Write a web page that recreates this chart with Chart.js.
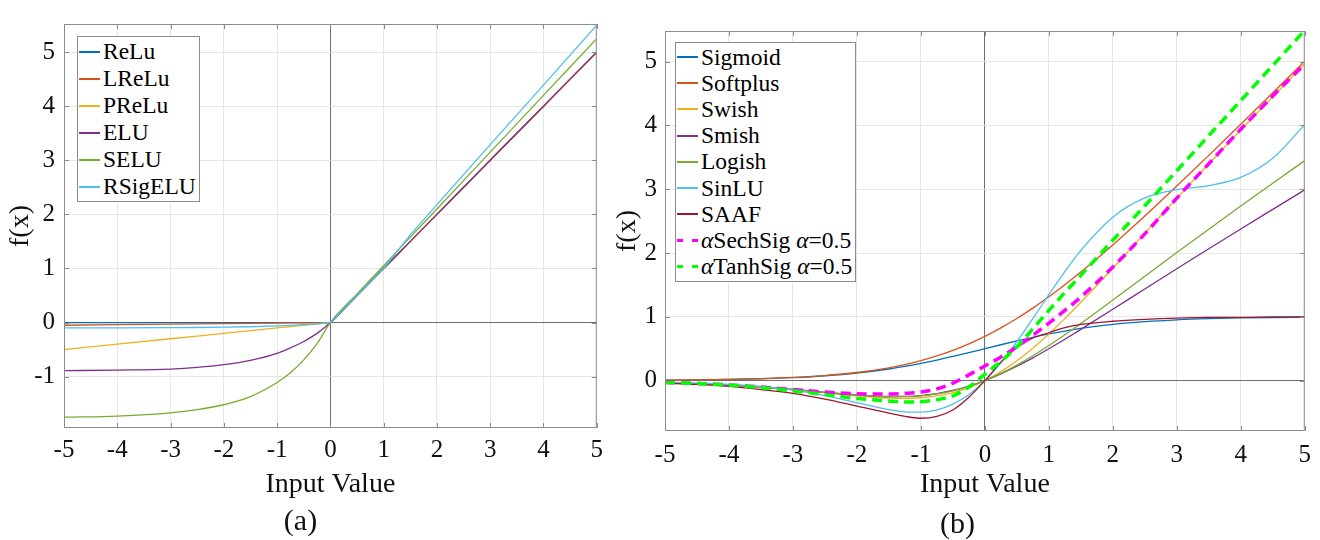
<!DOCTYPE html>
<html>
<head>
<meta charset="utf-8">
<script src="https://cdn.jsdelivr.net/npm/chart.js@4.4.1/dist/chart.umd.min.js"></script>
<style>
  html, body { margin: 0; padding: 0; background: #fff; }
  #wrap { position: relative; width: 1320px; height: 540px; }
  .pane { position: absolute; top: 0; height: 540px; }
  #paneA { left: 0; width: 610px; }
  #paneB { left: 610px; width: 710px; }
  .legend {
    position: absolute; background: #fff; border: 1px solid #8c8c8c;
    font-family: 'Liberation Serif', 'Times New Roman', serif; font-size: 23.5px; color: #000;
    padding: 1px 3px 1px 1px;
  }
  .legend .row { display: flex; align-items: center; white-space: nowrap; }
  .legend .sw { width: 21px; margin-right: 3px; flex: none; }
</style>
</head>
<body>
<div id="wrap">
  <div class="pane" id="paneA"><canvas id="chartA" width="610" height="540"></canvas><div class="legend" id="legA"></div></div>
  <div class="pane" id="paneB"><canvas id="chartB" width="710" height="540"></canvas><div class="legend" id="legB"></div></div>
</div>
<script>
// (a) piecewise activations
const xsA = [-5, -4, -3, -2.5, -2, -1.5, -1, -0.75, -0.5, -0.25, 0, 0.5, 1, 1.5, 2, 3, 4, 5];
const relu = [0, 0, 0, 0, 0, 0, 0, 0, 0, 0, 0, 0.5, 1, 1.5, 2, 3, 4, 5];
const lrelu = [-0.05, -0.04, -0.03, -0.025, -0.02, -0.015, -0.01, -0.008, -0.005, -0.003, 0, 0.5, 1, 1.5, 2, 3, 4, 5];
const prelu = [-0.5, -0.4, -0.3, -0.25, -0.2, -0.15, -0.1, -0.075, -0.05, -0.025, 0, 0.5, 1, 1.5, 2, 3, 4, 5];
const elu = [-0.89, -0.88, -0.86, -0.83, -0.78, -0.7, -0.57, -0.47, -0.35, -0.2, 0, 0.5, 1, 1.5, 2, 3, 4, 5];
const selu = [-1.75, -1.73, -1.67, -1.61, -1.52, -1.37, -1.11, -0.93, -0.69, -0.39, 0, 0.53, 1.05, 1.58, 2.1, 3.15, 4.2, 5.25];
const rsigelu = [-0.1, -0.1, -0.095, -0.092, -0.086, -0.078, -0.063, -0.053, -0.039, -0.022, 0, 0.5, 1, 1.62, 2.18, 3.29, 4.39, 5.5];

// (b) smooth activations
const xsB = [-5, -4.5, -4, -3.5, -3, -2.5, -2, -1.5, -1.25, -1, -0.75, -0.5, -0.25, 0, 0.25, 0.5, 0.75, 1, 1.25, 1.5, 2, 2.5, 3, 3.5, 4, 4.5, 5];
const sigmoid = [0.007, 0.011, 0.018, 0.029, 0.047, 0.076, 0.119, 0.182, 0.223, 0.269, 0.321, 0.378, 0.438, 0.5, 0.562, 0.622, 0.679, 0.731, 0.777, 0.818, 0.881, 0.924, 0.953, 0.971, 0.982, 0.989, 0.993];
const softplus = [0.007, 0.011, 0.018, 0.03, 0.049, 0.079, 0.127, 0.201, 0.252, 0.313, 0.386, 0.474, 0.576, 0.693, 0.826, 0.974, 1.136, 1.313, 1.502, 1.701, 2.127, 2.579, 3.049, 3.53, 4.018, 4.511, 5.007];
const swish = [-0.033, -0.05, -0.072, -0.103, -0.142, -0.19, -0.238, -0.273, -0.279, -0.269, -0.241, -0.189, -0.109, 0, 0.141, 0.311, 0.509, 0.731, 0.971, 1.227, 1.762, 2.311, 2.858, 3.399, 3.928, 4.45, 4.967];
const smish = [-0.033, -0.049, -0.071, -0.101, -0.139, -0.183, -0.224, -0.249, -0.248, -0.234, -0.203, -0.155, -0.087, 0, 0.105, 0.225, 0.357, 0.5, 0.649, 0.803, 1.118, 1.437, 1.753, 2.067, 2.377, 2.684, 2.99];
const logish = [-0.033, -0.049, -0.071, -0.101, -0.139, -0.183, -0.225, -0.251, -0.251, -0.238, -0.209, -0.16, -0.091, 0, 0.112, 0.242, 0.389, 0.549, 0.719, 0.896, 1.263, 1.636, 2.007, 2.374, 2.736, 3.094, 3.449];
const sinlu = [-0.027, -0.039, -0.058, -0.092, -0.149, -0.235, -0.347, -0.456, -0.49, -0.495, -0.459, -0.37, -0.218, 0, 0.28, 0.61, 0.972, 1.346, 1.709, 2.042, 2.562, 2.863, 2.993, 3.057, 3.185, 3.484, 4.013];
const saaf = [-0.04, -0.06, -0.09, -0.14, -0.2, -0.29, -0.4, -0.51, -0.56, -0.59, -0.56, -0.46, -0.26, 0, 0.29, 0.52, 0.67, 0.75, 0.83, 0.88, 0.93, 0.96, 0.98, 0.99, 0.99, 1, 1];
const sechsig = [-0.03, -0.045, -0.068, -0.1, -0.14, -0.18, -0.205, -0.21, -0.2, -0.18, -0.13, -0.04, 0.09, 0.23, 0.37, 0.53, 0.71, 0.9, 1.1, 1.31, 1.78, 2.3, 2.86, 3.4, 3.94, 4.46, 4.96];
const tanhsig = [-0.03, -0.045, -0.07, -0.11, -0.16, -0.22, -0.28, -0.32, -0.335, -0.33, -0.3, -0.24, -0.1, 0.1, 0.3, 0.53, 0.81, 1.1, 1.38, 1.65, 2.2, 2.74, 3.29, 3.84, 4.39, 4.94, 5.49];

const serif = "'Liberation Serif', 'Times New Roman', serif";
const ink = '#111';

const toPoints = (xs, ys) => xs.map((x, i) => ({ x, y: ys[i] }));

// style: 's' straight segments, 'c' smooth curve, 'd' smooth dashed
const line = (label, xs, ys, color, i, style) => ({
  label,
  data: toPoints(xs, ys),
  borderColor: color,
  backgroundColor: color,
  borderWidth: style === 'd' ? 3.5 : 1.3,
  borderDash: style === 'd' ? [10, 6] : [],
  cubicInterpolationMode: style === 's' ? 'default' : 'monotone',
  tension: 0,
  pointRadius: 0,
  fill: false,
  order: -i,
});

// box around the axes with MATLAB-style inward ticks
const frame = {
  id: 'frame',
  afterDatasetsDraw(chart) {
    const { ctx, chartArea: { left, right, top, bottom }, scales: { x, y } } = chart;
    ctx.save();
    ctx.strokeStyle = '#8c8c8c';
    ctx.lineWidth = 1;
    ctx.strokeRect(left + 0.5, top + 0.5, right - left - 1, bottom - top - 1);
    ctx.beginPath();
    x.ticks.forEach((t) => {
      const px = Math.round(x.getPixelForValue(t.value)) + 0.5;
      ctx.moveTo(px, bottom); ctx.lineTo(px, bottom - 5);
      ctx.moveTo(px, top); ctx.lineTo(px, top + 5);
    });
    y.ticks.forEach((t) => {
      const py = Math.round(y.getPixelForValue(t.value)) + 0.5;
      ctx.moveTo(left, py); ctx.lineTo(left + 5, py);
      ctx.moveTo(right, py); ctx.lineTo(right - 5, py);
    });
    ctx.stroke();
    ctx.restore();
  },
};

// legend box inside the plot, built from the datasets
const htmlLegend = {
  id: 'htmlLegend',
  afterUpdate(chart, args, opts) {
    const el = document.getElementById(opts.id);
    el.innerHTML = '';
    chart.data.datasets.forEach((ds) => {
      const row = document.createElement('div');
      row.className = 'row';
      row.style.height = `${opts.rowHeight}px`;
      const sw = document.createElement('span');
      sw.className = 'sw';
      if (ds.borderDash.length) {
        sw.style.height = '3px';
        sw.style.background = `linear-gradient(to right, ${ds.borderColor} 0 6px, transparent 6px 15px, ${ds.borderColor} 15px 21px)`;
      } else {
        sw.style.height = '2px';
        sw.style.background = ds.borderColor;
      }
      const txt = document.createElement('span');
      txt.innerHTML = ds.label.replace(/α/g, '<i>α</i>');
      row.append(sw, txt);
      el.appendChild(row);
    });
    el.style.left = `${chart.chartArea.left + opts.dx}px`;
    el.style.top = `${chart.chartArea.top + opts.dy}px`;
  },
};

const gridColor = (c) => (c.tick && c.tick.value === 0 ? '#6e6e6e' : '#e6e6e6');

const makeChart = (id, datasets, o) => new Chart(document.getElementById(id), {
  type: 'line',
  data: { datasets },
  plugins: [frame, htmlLegend],
  options: {
    responsive: false,
    animation: false,
    layout: { padding: { top: o.padTop, right: o.padRight, left: 0, bottom: 0 } },
    scales: {
      x: {
        type: 'linear',
        min: -5,
        max: 5,
        ticks: { stepSize: 1, padding: o.xTickPad, font: { family: serif, size: 25, lineHeight: 1.2 }, color: ink, maxRotation: 0, autoSkip: false },
        grid: { color: gridColor, drawTicks: false, lineWidth: 1 },
        border: { display: false },
        title: { display: true, text: 'Input Value', color: ink, font: { family: serif, size: 28, lineHeight: 1.2 }, padding: { top: 0, bottom: o.xTitlePad } },
        afterFit: (s) => { s.height = o.xHeight; },
      },
      y: {
        type: 'linear',
        min: o.yMin,
        max: o.yMax,
        ticks: { stepSize: 1, includeBounds: false, padding: o.yTickPad, font: { family: serif, size: 25 }, color: ink },
        grid: { color: gridColor, drawTicks: false, lineWidth: 1 },
        border: { display: false },
        title: { display: true, text: 'f(x)', color: ink, font: { family: serif, size: 28, lineHeight: 1.2 }, padding: { top: o.yTitlePad, bottom: 0 } },
        afterFit: (s) => { s.width = o.yWidth; },
      },
    },
    plugins: {
      legend: { display: false },
      tooltip: { enabled: false },
      title: { display: true, position: 'bottom', text: o.caption, color: ink, font: { family: serif, size: 30, weight: 'normal', lineHeight: o.capLine }, padding: 0 },
      htmlLegend: { id: o.legendId, dx: o.legDx, dy: o.legDy, rowHeight: o.rowHeight },
    },
  },
});

makeChart('chartA', [
  line('ReLu', xsA, relu, '#0072BD', 0, 's'),
  line('LReLu', xsA, lrelu, '#D95319', 1, 's'),
  line('PReLu', xsA, prelu, '#EDB120', 2, 's'),
  line('ELU', xsA, elu, '#7E2F8E', 3, 'c'),
  line('SELU', xsA, selu, '#77AC30', 4, 'c'),
  line('RSigELU', xsA, rsigelu, '#4DBEEE', 5, 's'),
], {
  padTop: 9, padRight: 9,
  xTickPad: 7, xTitlePad: 3, xHeight: 76,
  yMin: -1.95, yMax: 5.52, yTickPad: 9, yTitlePad: 4, yWidth: 64,
  caption: '(a)', capLine: 1.2,
  legendId: 'legA', legDx: 13, legDy: 12, rowHeight: 27,
});

makeChart('chartB', [
  line('Sigmoid', xsB, sigmoid, '#0072BD', 0, 'c'),
  line('Softplus', xsB, softplus, '#D95319', 1, 'c'),
  line('Swish', xsB, swish, '#EDB120', 2, 'c'),
  line('Smish', xsB, smish, '#7E2F8E', 3, 'c'),
  line('Logish', xsB, logish, '#77AC30', 4, 'c'),
  line('SinLU', xsB, sinlu, '#4DBEEE', 5, 'c'),
  line('SAAF', xsB, saaf, '#A2142F', 6, 'c'),
  line('αSechSig α=0.5', xsB, sechsig, '#FF00FF', 7, 'd'),
  line('αTanhSig α=0.5', xsB, tanhsig, '#00FF00', 8, 'd'),
], {
  padTop: 31, padRight: 15,
  xTickPad: 9, xTitlePad: 9, xHeight: 79,
  yMin: -0.79, yMax: 5.48, yTickPad: 8, yTitlePad: 1, yWidth: 55,
  caption: '(b)', capLine: 1.0,
  legendId: 'legB', legDx: 10, legDy: 11, rowHeight: 26.2,
});
</script>
</body>
</html>
